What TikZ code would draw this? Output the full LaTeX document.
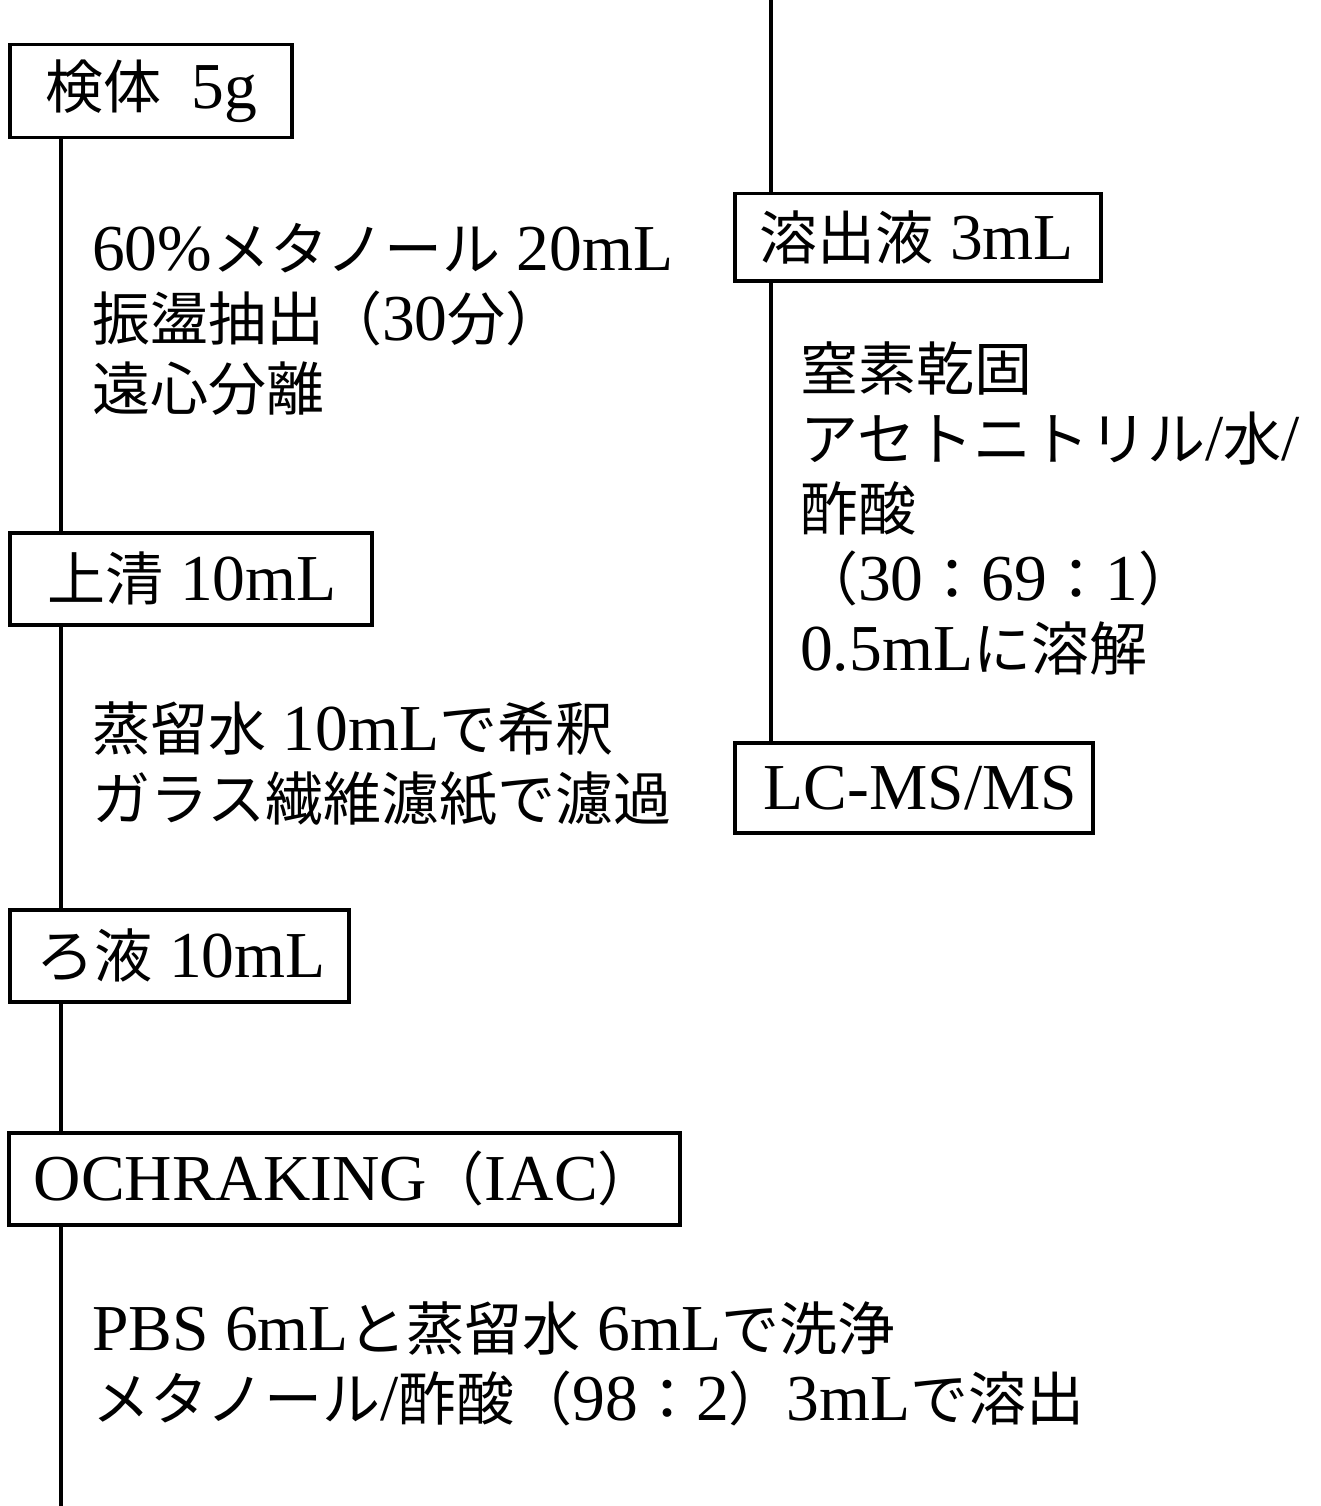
\documentclass[tikz,border=0pt]{standalone}
\usepackage{fontspec}
\setmainfont{Liberation Serif}[Scale=1.13]
\newfontfamily\cjk{Noto Sans CJK JP}
\newcommand\J[1]{{\cjk #1}}
\newcommand\BX[2]{\makebox[#1pt][l]{#2}}
\begin{document}
\begin{tikzpicture}[x=1pt,y=-1pt,
  font=\fontsize{58}{70}\selectfont,
  box/.style={draw, line width=3.5pt, anchor=north west, inner ysep=0pt},
  txt/.style={anchor=base west, inner sep=0pt, align=left},
  conn/.style={line width=3.5pt}]
\useasboundingbox (0,0) rectangle (1320,1506);
\coordinate (L) at (61,0);
\coordinate (R) at (771,0);
\coordinate (Lend) at (61,1506);
\coordinate (Rtop) at (771,0);

% left column boxes
\node[box, inner xsep=36pt, minimum height=93pt] (B1) at (8,43) {\BX{210}{\raisebox{-4pt}{\J{検体}\hspace{30pt}5g}}};
\node[box, inner xsep=38pt, minimum height=92pt] (B2) at (8,531) {\BX{286}{\raisebox{-3pt}{\J{上清} 10mL}}};
\node[box, inner xsep=27pt, minimum height=92pt] (B3) at (8,908) {\BX{285}{\raisebox{-3pt}{\J{ろ液} 10mL}}};
\node[box, inner xsep=25pt, minimum height=92pt] (B4) at (7,1131) {\BX{621}{\raisebox{-3pt}{OCHRAKING\J{（}IAC\J{）}}}};

% right column boxes
\node[box, inner xsep=25pt, minimum height=87pt] (B5) at (733,192) {\BX{316}{\J{溶出液} 3mL}};
\node[box, inner xsep=29pt, minimum height=90pt] (B6) at (733,741) {\BX{300}{\raisebox{-3pt}{LC-MS/MS}}};

% texts (anchored at the baseline of their last line)
\node[txt] (T1) at (92,410) {60\%\J{メタノール} 20mL\\\J{振盪抽出（}30\J{分）}\\\J{遠心分離}};
\node[txt] (T2) at (92,820) {\J{蒸留水} 10mL\J{で希釈}\\\J{ガラス繊維濾紙で濾過}};
\node[txt] (T3) at (92,1420) {PBS 6mL\J{と蒸留水} 6mL\J{で洗浄}\\\J{メタノール}/\J{酢酸（}98\J{：}2\J{）}3mL\J{で溶出}};
\node[txt] (T4) at (800,670) {\J{窒素乾固}\\\J{アセトニトリル}/\J{水}/\\\J{酢酸}\\\J{（}30\J{：}69\J{：}1\J{）}\\0.5mL\J{に溶解}};

% connectors
\draw[conn] (B1.south -| L) -- (B2.north -| L);
\draw[conn] (B2.south -| L) -- (B3.north -| L);
\draw[conn] (B3.south -| L) -- (B4.north -| L);
\draw[conn] (B4.south -| L) -- (Lend);
\draw[conn] (Rtop) -- (B5.north -| R);
\draw[conn] (B5.south -| R) -- (B6.north -| R);
\end{tikzpicture}
\end{document}
